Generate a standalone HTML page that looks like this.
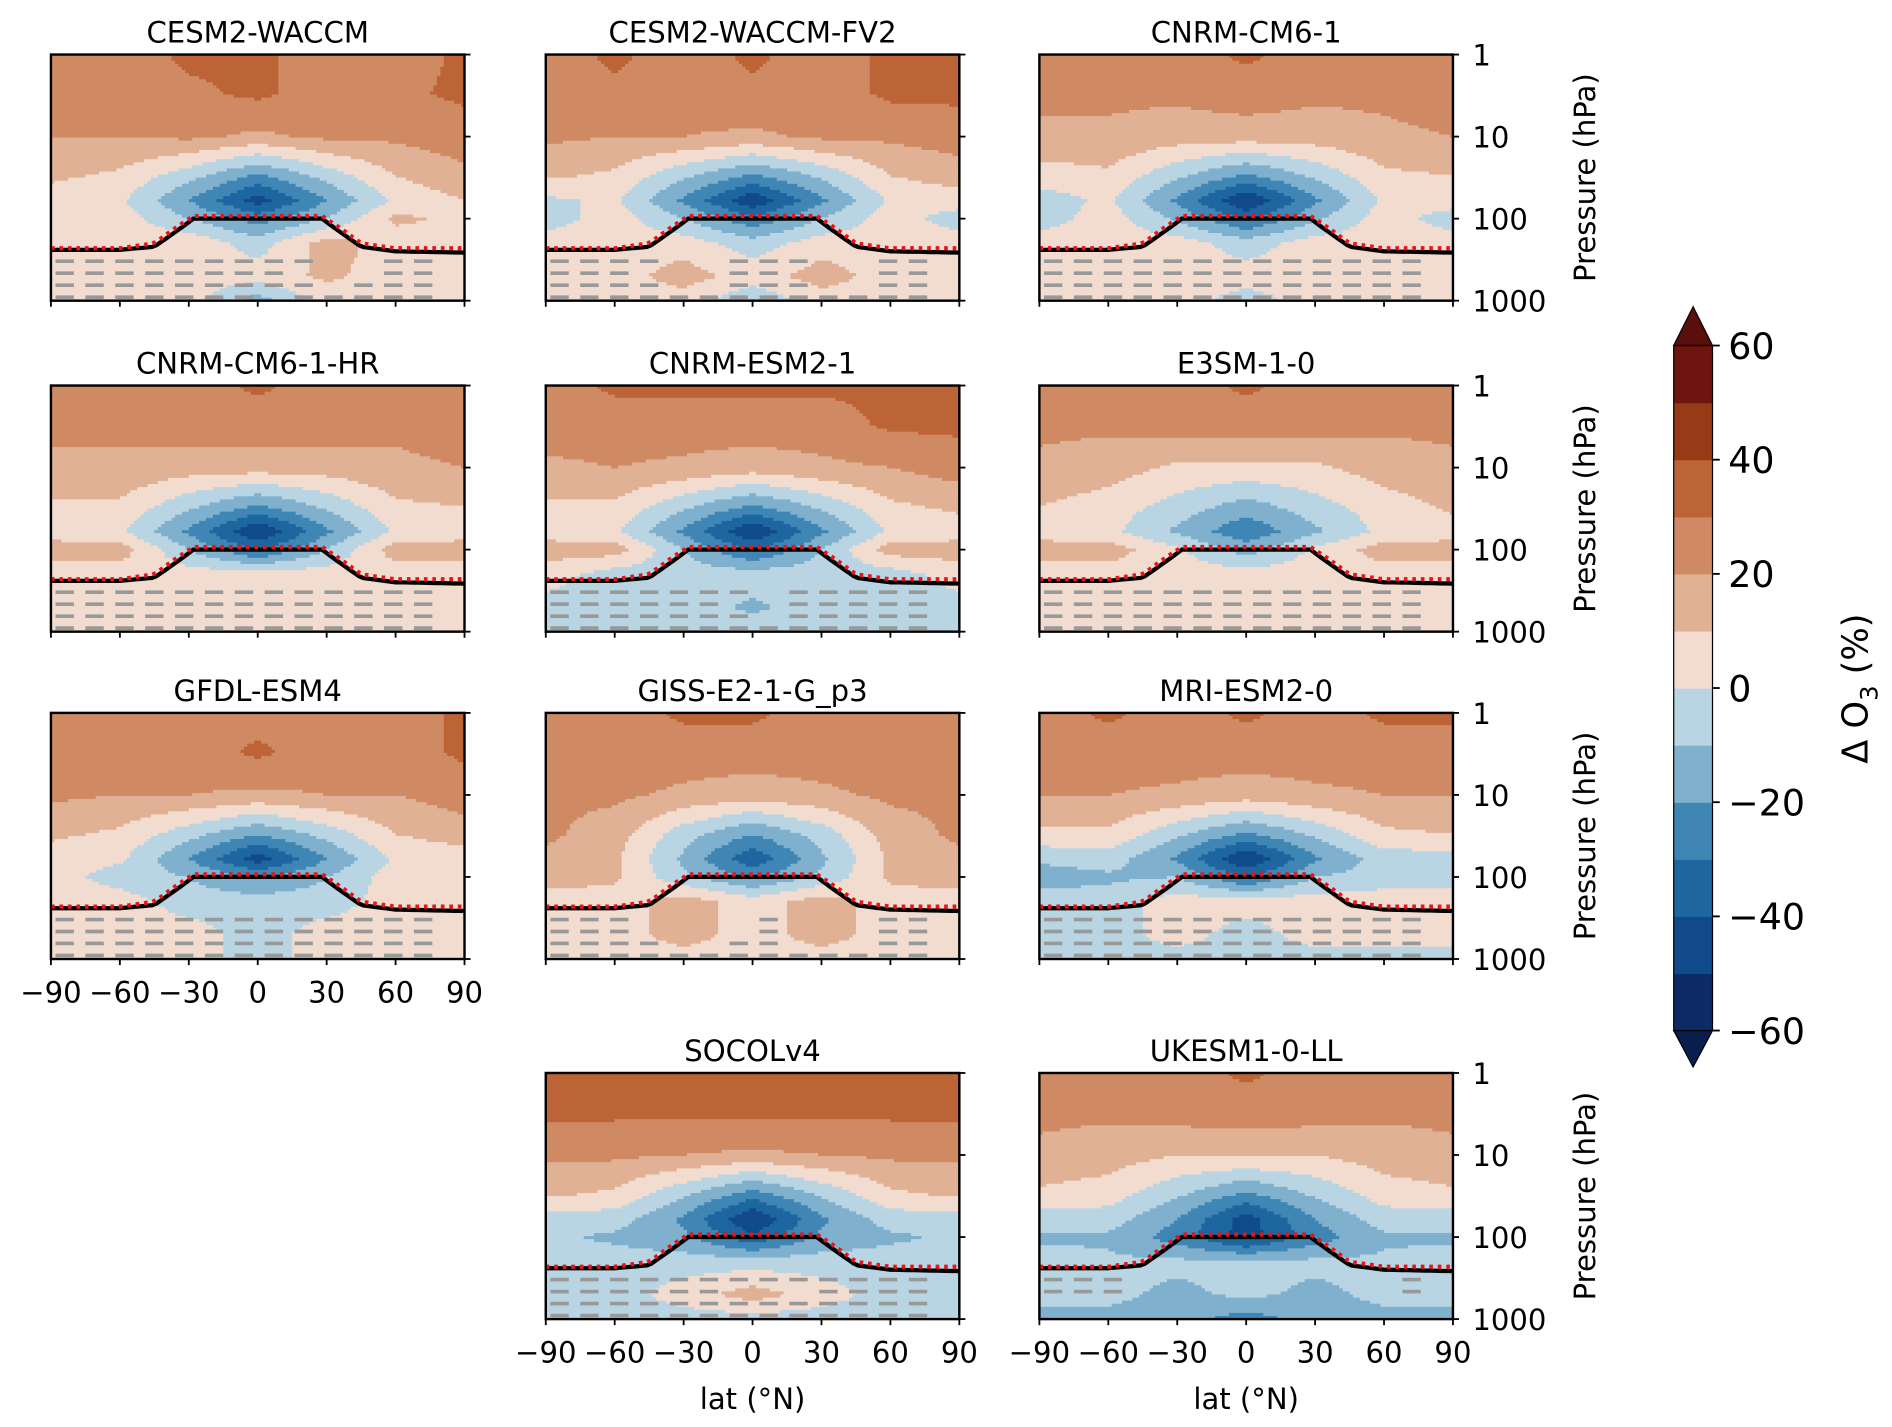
<!DOCTYPE html>
<html><head><meta charset="utf-8">
<style>
html,body{margin:0;padding:0;background:#fff;}
svg{display:block;font-family:"DejaVu Sans","Liberation Sans",sans-serif;}
</style></head>
<body>
<svg id="fig" width="1892" height="1427" viewBox="0 0 1560 1177" preserveAspectRatio="none" xmlns="http://www.w3.org/2000/svg"></svg>
<script>
// ---- data ----
const lats = [-90,-60,-30,0,30,60,90];
const levels = [1,3,10,30,60,100,200,500,1000];
const modelNames = ["CESM2-WACCM","CESM2-WACCM-FV2","CNRM-CM6-1","CNRM-CM6-1-HR","CNRM-ESM2-1","E3SM-1-0","GFDL-ESM4","GISS-E2-1-G_p3","MRI-ESM2-0","SOCOLv4","UKESM1-0-LL"];
const fCESM = [[25,25,32,32,25,25,32],[25,25,28,32,25,28,32],[20,20,22,18,22,22,25],[12,8,-6,-22,-6,10,18],[5,2,-20,-45,-20,2,10],[5,5,-10,-25,-10,12,8],[5,5,8,-5,15,5,5],[5,5,5,5,12,5,5],[5,5,5,-15,5,5,5]];
const fFV2 = [[25,32,25,32,25,32,32],[25,28,25,28,25,32,32],[22,20,20,18,22,22,25],[12,8,-8,-22,-8,10,15],[-2,2,-22,-48,-22,2,5],[-5,5,-10,-28,-10,5,-5],[5,5,5,-5,5,5,5],[5,5,15,5,15,5,5],[5,5,5,-8,5,5,5]];
const fCNRM = [[25,25,25,32,25,25,25],[22,22,22,25,22,22,25],[18,18,15,15,15,18,20],[5,8,-8,-22,-8,8,10],[-5,2,-22,-50,-22,2,5],[-5,5,-12,-32,-12,5,-5],[5,5,5,-5,5,5,5],[5,5,5,5,5,5,5],[5,5,5,-5,5,5,5]];
const fCNRMHR = [[25,25,25,32,25,25,25],[22,22,25,25,25,22,25],[18,18,15,15,15,18,20],[8,8,-8,-22,-8,8,10],[5,2,-22,-50,-22,2,5],[15,15,-10,-32,-10,15,15],[5,5,5,5,5,5,5],[5,5,5,5,5,5,5],[5,5,5,5,5,5,5]];
const fCNRMESM = [[25,32,32,32,32,32,32],[25,25,25,25,25,32,32],[18,20,18,15,18,20,25],[8,8,-8,-22,-8,8,12],[5,2,-22,-50,-22,2,5],[15,15,-10,-32,-10,15,15],[5,-5,-5,-5,-5,-5,5],[-5,-5,-5,-12,-5,-5,-5],[-5,-5,-5,-5,-5,-5,-5]];
const fE3SM = [[22,22,25,32,25,22,22],[22,22,25,25,25,22,22],[18,15,8,8,8,15,18],[10,5,-4,-15,-4,5,12],[5,3,-12,-28,-12,3,5],[15,15,2,-15,2,15,15],[5,5,5,5,5,5,5],[5,5,5,5,5,5,5],[5,5,5,5,5,5,5]];
const fGFDL = [[25,25,25,25,25,25,32],[25,25,25,32,25,25,32],[22,20,20,18,20,20,25],[12,8,-6,-20,-6,10,15],[5,2,-20,-45,-20,2,5],[5,-5,-10,-22,-10,5,5],[5,5,-5,-5,-5,5,5],[5,5,5,-5,5,5,5],[5,5,5,-5,5,5,5]];
const fGISS = [[25,25,32,32,25,25,25],[25,25,25,25,25,25,25],[22,22,18,15,18,22,22],[22,15,-6,-20,-6,15,22],[18,12,-12,-38,-12,12,18],[15,12,-8,-22,-8,12,15],[5,5,15,5,15,5,5],[5,5,15,5,15,5,5],[5,5,5,5,5,5,5]];
const fMRI = [[25,32,25,32,25,32,32],[25,25,25,25,25,25,25],[20,20,18,15,18,20,20],[8,8,-8,-22,-8,8,10],[-8,-5,-22,-50,-22,-5,-5],[-15,-12,-10,-32,-10,-5,-5],[-5,-5,5,5,5,5,5],[-5,-5,5,-5,5,5,5],[-5,-5,-5,-5,-5,-5,-5]];
const fSOCOL = [[32,32,32,32,32,32,32],[32,32,32,32,32,32,32],[22,22,20,18,20,22,22],[12,8,-8,-25,-8,8,12],[-5,-5,-22,-50,-22,-5,-5],[-8,-12,-18,-38,-18,-12,-8],[-5,-5,-5,-5,-5,-5,-5],[-5,-5,5,15,5,-5,-5],[-5,-5,-5,-5,-5,-5,-5]];
const fUKESM = [[25,25,25,32,25,25,25],[22,22,25,25,25,22,22],[18,15,10,12,10,15,18],[8,5,-8,-22,-8,5,8],[-5,-5,-20,-45,-20,-5,-5],[-12,-12,-25,-45,-25,-12,-12],[-5,-8,-8,-8,-8,-8,-5],[-8,-8,-12,-8,-12,-8,-8],[-12,-12,-15,-25,-15,-12,-12]];
const fields = [fCESM,fFV2,fCNRM,fCNRMHR,fCNRMESM,fE3SM,fGFDL,fGISS,fMRI,fSOCOL,fUKESM];
const tpLats = [-90,-60,-45,-35,-28,28,35,45,60,90];
const tpModel = [240,240,220,140,100,100,140,220,250,260];
const tpObs = [230,230,200,125,93,93,125,200,230,230];
const cbLevels = [-60,-50,-40,-30,-20,-10,0,10,20,30,40,50,60];
const cbTicks = [60,40,20,0,-20,-40,-60];
const xTicks = [-90,-60,-30,0,30,60,90];
const yTicks = [1,10,100,1000];

// ---- layout ----
const colors = ["#0b2a66","#104a8a","#1d66a0","#3f86b5","#7fb0cd","#b9d5e3","#f2dccf","#e0b194","#cf8a63","#bd6436","#973a17","#6f150f"];
const colX=[42,450,857], rowY=[45,318,588,885], PW=341, PH=203;
const pos=[[0,0],[1,0],[2,0],[0,1],[1,1],[2,1],[0,2],[1,2],[2,2],[1,3],[2,3]];
const NS="http://www.w3.org/2000/svg";
const svg=document.getElementById('fig');
function mk(tag,attrs,parent){const e=document.createElementNS(NS,tag);for(const k in attrs)e.setAttribute(k,attrs[k]);(parent||svg).appendChild(e);return e;}
function colorFor(v){let i=Math.floor((v+60)/10);if(i<0)i=0;if(i>11)i=11;return colors[i];}
function interp(f,lat,lp){
  let i=0;while(i<lats.length-2&&lat>lats[i+1])i++;
  const tx=(lat-lats[i])/(lats[i+1]-lats[i]);
  const lg=levels.map(Math.log10);
  let j=0;while(j<lg.length-2&&lp>lg[j+1])j++;
  const ty=(lp-lg[j])/(lg[j+1]-lg[j]);
  const a=f[j][i]*(1-tx)+f[j][i+1]*tx, b=f[j+1][i]*(1-tx)+f[j+1][i+1]*tx;
  return a*(1-ty)+b*ty;
}
function tpAt(arr,lat){let i=0;while(i<tpLats.length-2&&lat>tpLats[i+1])i++;const t=(lat-tpLats[i])/(tpLats[i+1]-tpLats[i]);return Math.exp(Math.log(arr[i])*(1-t)+Math.log(arr[i+1])*t);}

fields.forEach((f,k)=>{
  const [c,r]=pos[k]; const x0=colX[c], y0=rowY[r];
  const xs=lat=>x0+(lat+90)/180*PW;
  const ys=p=>y0+Math.log10(p)/3*PH;
  const g=mk('g',{});
  
  
  const NX=120, NY=80, cw=PW/NX, ch=PH/NY;
  for(let yy=0;yy<NY;yy++){
    const lp=(yy+0.5)/NY*3;
    let start=0, cur=colorFor(interp(f,-90+0.5*180/NX,lp));
    for(let xx=1;xx<=NX;xx++){
      const col = xx<NX?colorFor(interp(f,-90+(xx+0.5)*180/NX,lp)):null;
      if(col!==cur){
        const rc=mk('rect',{x:(x0+start*cw).toFixed(2),y:(y0+yy*ch).toFixed(2),width:((xx-start)*cw+0.6).toFixed(2),height:(ch+0.6).toFixed(2),fill:cur},g);
        
        
        start=xx;cur=col;
      }
    }
  }
  for(let p=330;p<=950;p*=1.4){
    for(let lat=-88;lat<80;lat+=13){
      const v=interp(f,lat,Math.log10(p));
      if(Math.abs(v)<8 && p>tpAt(tpModel,lat)*1.3){
        const d=mk('line',{x1:xs(lat),x2:xs(lat+8),y1:ys(p),y2:ys(p),stroke:'#999','stroke-width':3},g);
        
        
      }
    }
  }
  const lm=[],lo=[];
  for(let lat=-90;lat<=90;lat+=2){lm.push(xs(lat).toFixed(1)+','+ys(tpAt(tpModel,lat)).toFixed(1));lo.push(xs(lat).toFixed(1)+','+ys(tpAt(tpObs,lat)).toFixed(1));}
  const l1=mk('polyline',{points:lm.join(' '),fill:'none',stroke:'#000','stroke-width':3.5},g);
  
  
  const l2=mk('polyline',{points:lo.join(' '),fill:'none',stroke:'#e8141a','stroke-width':3.5,'stroke-dasharray':'3,4'},g);
  
  
  const fr=mk('rect',{x:x0,y:y0,width:PW,height:PH,fill:'none',stroke:'#000','stroke-width':2},g);
  
  
  const t=mk('text',{x:x0+PW/2,y:y0-10,'text-anchor':'middle','font-size':24},g);
  t.textContent=modelNames[k];
  
  
  xTicks.forEach(v=>{const tk=mk('line',{x1:xs(v),x2:xs(v),y1:y0+PH,y2:y0+PH+5,stroke:'#000','stroke-width':1.5},g);});
  yTicks.forEach(v=>{const tk=mk('line',{x1:x0+PW,x2:x0+PW+5,y1:ys(v),y2:ys(v),stroke:'#000','stroke-width':1.5},g);});
  if(c===2){
    yTicks.forEach(v=>{const tl=mk('text',{x:x0+PW+16,y:ys(v)+9,'font-size':24},g);tl.textContent=v;});
    const yl=mk('text',{x:0,y:0,'font-size':24,'text-anchor':'middle',transform:`translate(${x0+PW+117},${y0+PH/2}) rotate(-90)`},g);
    yl.textContent='Pressure (hPa)';
    
    
  }
  if(k===6||k===9||k===10){
    xTicks.forEach(v=>{const tl=mk('text',{x:xs(v),y:y0+PH+36,'font-size':24,'text-anchor':'middle'},g);tl.textContent=(v<0?'\u2212'+(-v):v);});
  }
  if(k===9||k===10){
    const xl=mk('text',{x:x0+PW/2,y:y0+PH+74,'font-size':24,'text-anchor':'middle'},g);
    xl.textContent='lat (\u00b0N)';
    
    
  }
});

// colorbar
const cb=mk('g',{});


const cbX=1380,cbW=32,cbTop=285,cbBot=850;
const cy=v=>cbBot-(v+60)/120*(cbBot-cbTop);
for(let i=0;i<cbLevels.length-1;i++){
  const r=mk('rect',{x:cbX,y:cy(cbLevels[i+1]),width:cbW,height:cy(cbLevels[i])-cy(cbLevels[i+1])+0.5,fill:colors[i]},cb);
  
  
}
const tu=mk('polygon',{points:`${cbX},${cbTop} ${cbX+cbW/2},253 ${cbX+cbW},${cbTop}`,fill:'#5a0f0c',stroke:'#000','stroke-width':1},cb);


const td=mk('polygon',{points:`${cbX},${cbBot} ${cbX+cbW/2},880 ${cbX+cbW},${cbBot}`,fill:'#081f4d',stroke:'#000','stroke-width':1},cb);


const cbo=mk('rect',{x:cbX,y:cbTop,width:cbW,height:cbBot-cbTop,fill:'none',stroke:'#000','stroke-width':1},cb);


cbTicks.forEach(v=>{
  const tk=mk('line',{x1:cbX+cbW,x2:cbX+cbW+6,y1:cy(v),y2:cy(v),stroke:'#000','stroke-width':1.5},cb);
  
  
  const tl=mk('text',{x:cbX+cbW+13,y:cy(v)+11,'font-size':30},cb);
  tl.textContent=(v<0?'\u2212'+(-v):v);
  
  
});
const cl=mk('text',{x:0,y:0,'font-size':29,'text-anchor':'middle',transform:'translate(1540,568) rotate(-90)'},cb);
cl.innerHTML='\u0394 O<tspan dy="8" font-size="20">3</tspan><tspan dy="-8"> (%)</tspan>';


</script>
</body></html>
